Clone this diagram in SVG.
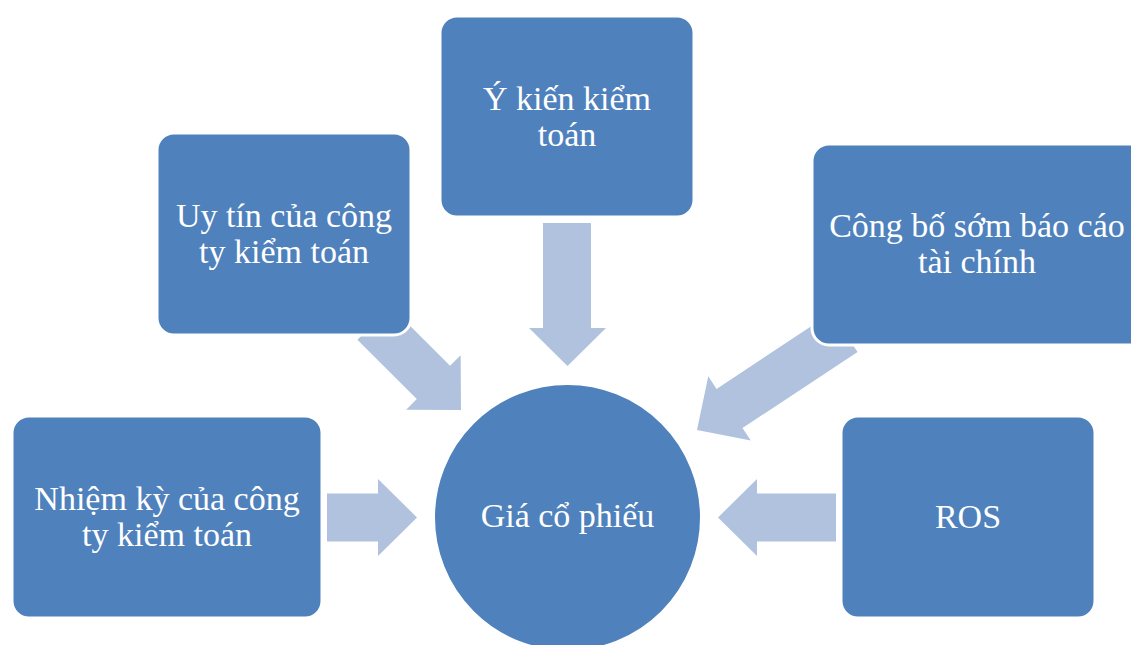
<svg xmlns="http://www.w3.org/2000/svg" width="1131" height="645" viewBox="0 0 1131 645">
<style>
.arrow{fill:#B0C2DE;}
.box{fill:#4F81BD;stroke:#FFFFFF;stroke-width:3;}
.lbl{font-family:"Liberation Serif","Times New Roman",serif;font-size:34px;fill:#FFFFFF;text-anchor:middle;}
</style>
<rect width="1131" height="645" fill="#FFFFFF"/>
<g id="connectors">
  <!-- left horizontal -->
  <polygon class="arrow" points="327,493.5 378,493.5 378,479 417,517.5 378,556 378,541.5 327,541.5"/>
  <!-- right horizontal (from ROS) -->
  <polygon class="arrow" points="836,493.5 757,493.5 757,479 718,517.5 757,556 757,541.5 836,541.5"/>
  <!-- top vertical -->
  <polygon class="arrow" points="543,223 543,328 529,328 567.5,366 606,328 591,328 591,223"/>
  <!-- upper-left diagonal -->
  <polygon class="arrow" transform="translate(461,410) rotate(45)" points="-123,-23.5 -39,-23.5 -39,-38.5 0,0 -39,38.5 -39,23.5 -123,23.5"/>
  <!-- upper-right diagonal -->
  <polygon class="arrow" transform="translate(697,430) rotate(146.5)" points="-177,-23.5 -39,-23.5 -39,-38.5 0,0 -39,38.5 -39,23.5 -177,23.5"/>
</g>
<g id="node-uytin">
  <rect class="box" x="157" y="133" width="254" height="202" rx="17"/>
  <text class="lbl" x="284" y="227">Uy tín của công</text>
  <text class="lbl" x="284" y="263">ty kiểm toán</text>
</g>
<g id="node-ykien">
  <rect class="box" x="440" y="16" width="254" height="201" rx="17"/>
  <text class="lbl" x="567" y="110">Ý kiến kiểm</text>
  <text class="lbl" x="567" y="146">toán</text>
</g>
<g id="node-congbo">
  <rect class="box" x="812" y="144" width="334" height="201" rx="17"/>
  <text class="lbl" x="977" y="237">Công bố sớm báo cáo</text>
  <text class="lbl" x="977" y="273">tài chính</text>
</g>
<g id="node-nhiemky">
  <rect class="box" x="12" y="416" width="310" height="202" rx="17"/>
  <text class="lbl" x="167" y="510">Nhiệm kỳ của công</text>
  <text class="lbl" x="167" y="546">ty kiểm toán</text>
</g>
<g id="node-ros">
  <rect class="box" x="841" y="416" width="254" height="202" rx="17"/>
  <text class="lbl" x="968" y="528">ROS</text>
</g>
<g id="node-gia">
  <circle class="box" cx="567.5" cy="517.5" r="134"/>
  <text class="lbl" x="567.5" y="527">Giá cổ phiếu</text>
</g>
</svg>
